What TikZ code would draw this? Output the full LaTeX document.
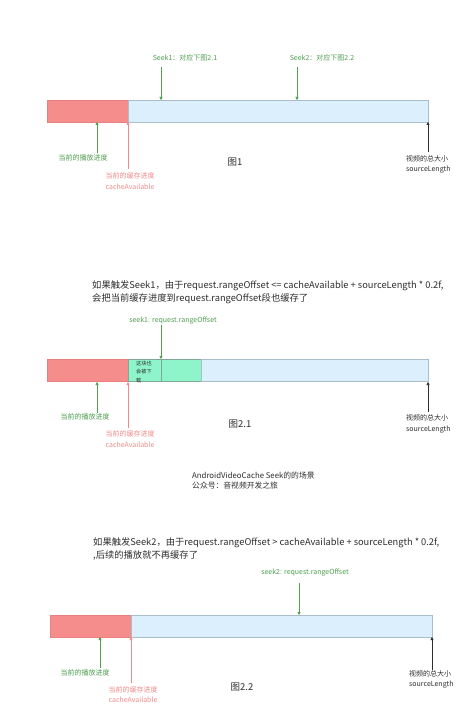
\documentclass[tikz,border=0pt]{standalone}
\usepackage{fontspec}
\setmainfont{Noto Sans CJK SC}
\usetikzlibrary{arrows.meta}
\definecolor{redfill}{HTML}{F58D8D}
\definecolor{reddraw}{HTML}{E88080}
\definecolor{bluefill}{HTML}{DCEFFC}
\definecolor{bluedraw}{HTML}{AABDCA}
\definecolor{greenfill}{HTML}{8EF4CA}
\definecolor{greendraw}{HTML}{7FA898}
\definecolor{gtext}{HTML}{4E9F4E}
\definecolor{ptext}{HTML}{F08C8C}
\definecolor{dtext}{HTML}{2E2E2E}
\tikzset{
  seg/.style={draw=bluedraw, line width=0.6pt, minimum height=22pt, inner sep=0pt, outer sep=0pt, anchor=north west},
  lab/.style={font=\fontsize{7}{10.5}\selectfont, inner sep=0pt, align=center},
  desc/.style={font=\fontsize{9.3}{13}\selectfont, text=dtext, inner sep=0pt, anchor=west, align=left},
  figlab/.style={font=\fontsize{9.5}{11}\selectfont, text=dtext, inner sep=0pt},
  tipg/.style={-{Triangle[length=3pt,width=3pt]}, line width=0.6pt},
  garr/.style={tipg, draw=gtext},
  parr/.style={tipg, draw=ptext},
  karr/.style={tipg, draw=dtext},
}
\begin{document}
\begin{tikzpicture}[x=1pt,y=-1pt]
\useasboundingbox[fill=white] (0,0) rectangle (474,722);

% ---------------- Figure 1 ----------------
\node[seg, fill=redfill, draw=reddraw, minimum width=81pt] (r1) at (47,100) {};
\node[seg, fill=bluefill, minimum width=300pt] (b1) at (128,100) {};
\node[lab, text=gtext] (s1l) at (185,58) {Seek1：对应下图2.1};
\node[lab, text=gtext] (s2l) at (322,58) {Seek2：对应下图2.2};
\coordinate (s1p) at (161,100);
\coordinate (s2p) at (297,100);
\coordinate (s1t) at (161,67);
\coordinate (s2t) at (297,67);
\draw[garr] (s1t) -- (s1p);
\draw[garr] (s2t) -- (s2p);
\node[lab, text=gtext] (g1l) at (83,158) {当前的播放进度};
\coordinate (g1p) at (97,122);
\coordinate (g1t) at (97,153);
\draw[garr] (g1t) -- (g1p);
\node[lab, text=ptext] (p1l) at (130,181) {当前的缓存进度\\cacheAvailable};
\coordinate (p1p) at (128,122);
\coordinate (p1t) at (128,169);
\draw[parr] (p1t) -- (p1p);
\node[lab, text=dtext, align=left, anchor=west] (k1l) at (406,164.5) {视频的总大小\\sourceLength};
\coordinate (k1p) at (428,122);
\coordinate (k1t) at (428,152);
\draw[karr] (k1t) -- (k1p);
\node[figlab] (f1) at (235,162) {图1};

% ---------------- Figure 2.1 ----------------
\node[desc] (d1) at (92,292.5) {如果触发Seek1，由于request.rangeOffset <= cacheAvailable + sourceLength * 0.2f,\\会把当前缓存进度到request.rangeOffset段也缓存了};
\node[seg, fill=redfill, draw=reddraw, minimum width=81pt] (r2) at (47,359) {};
\node[seg, fill=greenfill, draw=greendraw, minimum width=73pt] (gr2) at (128,359) {};
\node[seg, fill=bluefill, minimum width=227pt] (b2) at (201,359) {};
\coordinate (gmt) at (161,359);
\coordinate (gmb) at (161,382);
\draw[greendraw, line width=0.6pt] (gmt) -- (gmb);
\node[font=\fontsize{5.2}{8.5}\selectfont, text=dtext, inner sep=0pt, align=left, anchor=north west] (gtxt) at (136,360.5) {这块也\\会被下\\载};
\node[lab, text=gtext] (sk1l) at (173,321) {seek1: request.rangeOffset};
\coordinate (sk1p) at (161,359);
\coordinate (sk1t) at (161,325);
\draw[garr] (sk1t) -- (sk1p);
\node[lab, text=gtext] (g2l) at (85,417) {当前的播放进度};
\coordinate (g2p) at (97,382);
\coordinate (g2t) at (97,413);
\draw[garr] (g2t) -- (g2p);
\node[lab, text=ptext] (p2l) at (130,439) {当前的缓存进度\\cacheAvailable};
\coordinate (p2p) at (128,382);
\coordinate (p2t) at (128,428);
\draw[parr] (p2t) -- (p2p);
\node[lab, text=dtext, align=left, anchor=west] (k2l) at (406,424) {视频的总大小\\sourceLength};
\coordinate (k2p) at (428,382);
\coordinate (k2t) at (428,412);
\draw[karr] (k2t) -- (k2p);
\node[figlab] (f21) at (240,424) {图2.1};

% ---------------- Caption ----------------
\node[lab, text=dtext, align=left, anchor=west, font=\fontsize{7.8}{10}\selectfont] (cap) at (192,481) {AndroidVideoCache Seek的的场景\\公众号：音视频开发之旅};

% ---------------- Figure 2.2 ----------------
\node[desc] (d2) at (93,548.5) {如果触发Seek2，由于request.rangeOffset > cacheAvailable + sourceLength * 0.2f,\\,后续的播放就不再缓存了};
\node[seg, fill=redfill, draw=reddraw, minimum width=81pt] (r3) at (50,615) {};
\node[seg, fill=bluefill, minimum width=301pt] (b3) at (131,615) {};
\node[lab, text=gtext] (sk2l) at (305,573) {seek2: request.rangeOffset};
\coordinate (sk2p) at (299,615);
\coordinate (sk2t) at (299,583);
\draw[garr] (sk2t) -- (sk2p);
\node[lab, text=gtext] (g3l) at (85,673) {当前的播放进度};
\coordinate (g3p) at (100,637);
\coordinate (g3t) at (100,668);
\draw[garr] (g3t) -- (g3p);
\node[lab, text=ptext] (p3l) at (133,694.5) {当前的缓存进度\\cacheAvailable};
\coordinate (p3p) at (131,637);
\coordinate (p3t) at (131,683);
\draw[parr] (p3t) -- (p3p);
\node[lab, text=dtext, align=left, anchor=west] (k3l) at (409,679.5) {视频的总大小\\sourceLength};
\coordinate (k3p) at (432,637);
\coordinate (k3t) at (432,670);
\draw[karr] (k3t) -- (k3p);
\node[figlab] (f22) at (242,687) {图2.2};
\end{tikzpicture}
\end{document}
